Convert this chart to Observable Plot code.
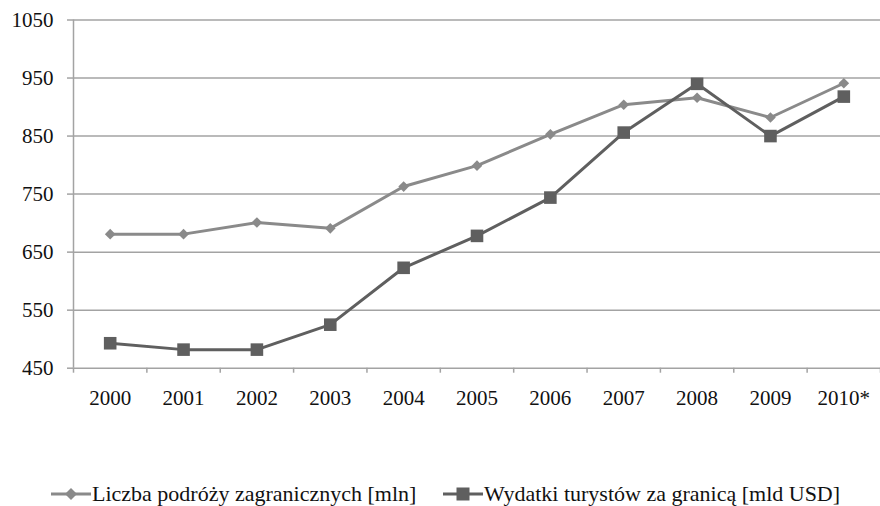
<!DOCTYPE html>
<html>
<head>
<meta charset="utf-8">
<script src="https://cdn.jsdelivr.net/npm/d3@7"></script>
<script src="https://cdn.jsdelivr.net/npm/@observablehq/plot@0.6"></script>
<style>
  html, body { margin: 0; padding: 0; background: #fff; }
  body { width: 880px; height: 506px; position: relative; overflow: hidden; font-family: "Liberation Serif", "Times New Roman", serif; }
  #chart { position: absolute; left: 0; top: 0; }
  .leg { position: absolute; top: 481px; display: flex; align-items: center; font-family: "Liberation Serif", "Times New Roman", serif; font-size: 22px; color: #111; white-space: nowrap; }
  .leg svg { display: block; margin-right: 1px; }
</style>
</head>
<body>
<div id="chart"></div>
<div class="leg" style="left:51px">
  <svg width="40" height="16"><line x1="0" y1="8" x2="40" y2="8" stroke="#8a8a8a" stroke-width="3"/><path d="M20,2 L26,8 L20,14 L14,8Z" fill="#8a8a8a"/></svg>
  <span>Liczba podróży zagranicznych [mln]</span>
</div>
<div class="leg" style="left:443px">
  <svg width="40" height="16"><line x1="0" y1="8" x2="40" y2="8" stroke="#5f5f5f" stroke-width="3"/><rect x="13.5" y="1.5" width="13" height="13" fill="#5f5f5f"/></svg>
  <span>Wydatki turystów za granicą [mld USD]</span>
</div>
<script>
const years = ["2000","2001","2002","2003","2004","2005","2006","2007","2008","2009","2010*"];
const trips = [681, 681, 701, 691, 763, 799, 853, 904, 916, 882, 941];
const spending = [493, 482, 482, 525, 623, 678, 744, 856, 940, 850, 918];
const yTicks = [450, 550, 650, 750, 850, 950, 1050];

const tripsData = years.map((y, i) => ({i, year: y, v: trips[i]}));
const spendData = years.map((y, i) => ({i, year: y, v: spending[i]}));
const boundaries = d3.range(years.length + 1).map(k => k - 0.5);

const gridColor = "#a3a3a3";
const c1 = "#8a8a8a";
const c2 = "#5f5f5f";

const chart = Plot.plot({
  width: 880,
  height: 420,
  marginLeft: 73,
  marginRight: 0,
  marginTop: 19.5,
  marginBottom: 52.3,
  style: {fontFamily: "'Liberation Serif', 'Times New Roman', serif", fontSize: "21px", color: "#111", background: "#fff"},
  x: {type: "linear", domain: [-0.5, years.length - 0.5], axis: null},
  y: {domain: [450, 1050], axis: null},
  marks: [
    Plot.gridY(yTicks, {stroke: gridColor, strokeOpacity: 1, strokeWidth: 1.5}),
    Plot.ruleX([-0.5], {stroke: gridColor, strokeWidth: 1.5}),
    Plot.axisY(yTicks, {label: null, tickSize: 6, tickPadding: 14, tickFormat: d => String(d), stroke: gridColor, strokeWidth: 1.5, fontSize: 21, fill: "#111"}),
    Plot.axisX(boundaries, {label: null, tickSize: 5, tickFormat: () => "", stroke: gridColor, strokeWidth: 1.5}),
    Plot.axisX(d3.range(years.length), {label: null, tickSize: 0, tickPadding: 22, tickFormat: i => years[i], fontSize: 21, fill: "#111"}),
    Plot.line(tripsData, {x: "i", y: "v", stroke: c1, strokeWidth: 3}),
    Plot.dot(tripsData, {x: "i", y: "v", symbol: "diamond2", r: 4.8, fill: c1, stroke: "none"}),
    Plot.line(spendData, {x: "i", y: "v", stroke: c2, strokeWidth: 3}),
    Plot.dot(spendData, {x: "i", y: "v", symbol: "square", r: 7.1, fill: c2, stroke: "none"})
  ]
});
document.getElementById("chart").appendChild(chart);
</script>
</body>
</html>
